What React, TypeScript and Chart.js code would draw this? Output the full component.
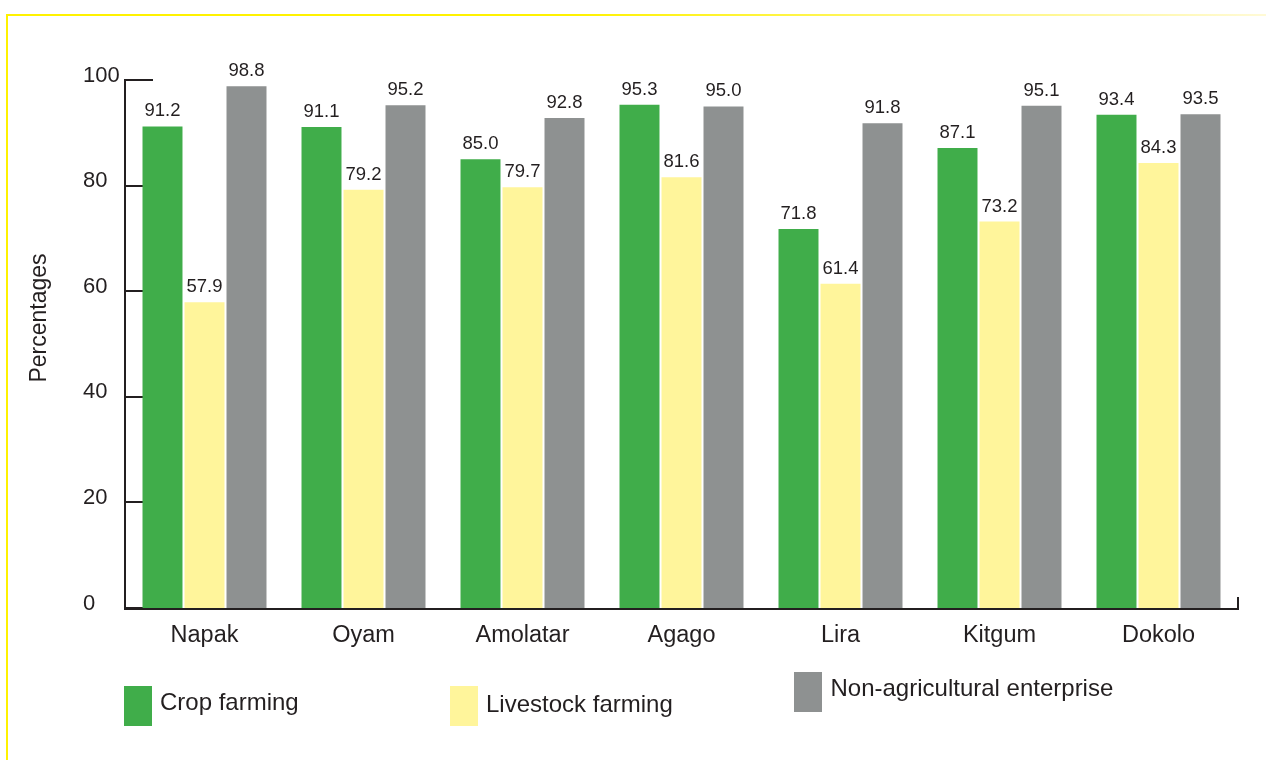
import { useEffect, useRef } from "react";
import { Chart, registerables } from "chart.js";

Chart.register(...registerables);

// District survey results (percent of households)
const districts = ["Napak", "Oyam", "Amolatar", "Agago", "Lira", "Kitgum", "Dokolo"];
const cropFarming = [91.2, 91.1, 85.0, 95.3, 71.8, 87.1, 93.4];
const livestockFarming = [57.9, 79.2, 79.7, 81.6, 61.4, 73.2, 84.3];
const nonAgricultural = [98.8, 95.2, 92.8, 95.0, 91.8, 95.1, 93.5];
const seriesNames = ["Crop farming", "Livestock farming", "Non-agricultural enterprise"];
const yTicks = [0, 20, 40, 60, 80, 100];
const yTitle = "Percentages";

const FONT = "'Liberation Sans', Arial, Helvetica, sans-serif";
const INK = "#231f20";
const COLORS = ["#40ad4a", "#fff59b", "#8e9191"];

// frame, axes, value labels, axis title and legend drawn around the bars
const decorPlugin = {
  id: "decor",
  beforeDraw(chart: any) {
    const { ctx, width, height } = chart;
    ctx.save();
    ctx.fillStyle = "#ffffff";
    ctx.fillRect(0, 0, width, height);
    // yellow frame: top edge fades out to the right
    const g = ctx.createLinearGradient(6, 0, width, 0);
    g.addColorStop(0, "#fff200");
    g.addColorStop(0.45, "#fff200");
    g.addColorStop(1, "#fffad6");
    ctx.fillStyle = g;
    ctx.fillRect(6, 14, width - 6, 2);
    ctx.fillStyle = "#fff200";
    ctx.fillRect(6, 14, 2, height - 14);
    ctx.restore();
  },
  beforeDatasetsDraw(chart: any) {
    const { ctx, chartArea, scales } = chart;
    const y = scales.y;
    ctx.save();
    ctx.strokeStyle = INK;
    ctx.lineWidth = 2;
    ctx.beginPath();
    yTicks.forEach((v) => {
      const py = Math.round(y.getPixelForValue(v));
      ctx.moveTo(chartArea.left, py);
      ctx.lineTo(chartArea.left + 28, py);
    });
    ctx.stroke();
    ctx.restore();
  },
  afterDatasetsDraw(chart: any) {
    const { ctx, chartArea } = chart;
    ctx.save();
    // axes
    ctx.strokeStyle = INK;
    ctx.lineWidth = 2;
    ctx.beginPath();
    ctx.moveTo(chartArea.left, chartArea.top - 1);
    ctx.lineTo(chartArea.left, chartArea.bottom + 1);
    ctx.lineTo(chartArea.right, chartArea.bottom + 1);
    ctx.lineTo(chartArea.right, chartArea.bottom - 11);
    ctx.stroke();

    // value labels
    ctx.fillStyle = INK;
    ctx.font = `18.5px ${FONT}`;
    ctx.textAlign = "center";
    ctx.textBaseline = "alphabetic";
    chart.data.datasets.forEach((ds: any, i: number) => {
      const meta = chart.getDatasetMeta(i);
      meta.data.forEach((el: any, j: number) => {
        ctx.fillText(Number(ds.data[j]).toFixed(1), el.x, el.y - 10);
      });
    });

    // y axis title
    ctx.font = `23px ${FONT}`;
    ctx.save();
    ctx.translate(45.5, 318);
    ctx.rotate(-Math.PI / 2);
    ctx.textAlign = "center";
    ctx.fillText(yTitle, 0, 0);
    ctx.restore();

    // legend
    const legend = [
      { box: [124, 686], text: [160, 710] },
      { box: [450, 686], text: [486, 711.5] },
      { box: [794, 672], text: [830.5, 695.5] },
    ];
    ctx.font = `24px ${FONT}`;
    ctx.textAlign = "left";
    legend.forEach((item, i) => {
      ctx.fillStyle = COLORS[i];
      ctx.fillRect(item.box[0], item.box[1], 28, 40);
      ctx.fillStyle = INK;
      ctx.fillText(seriesNames[i], item.text[0], item.text[1]);
    });
    ctx.restore();
  },
};

export default function App() {
  const canvasRef = useRef<HTMLCanvasElement | null>(null);

  useEffect(() => {
    const canvas = canvasRef.current;
    if (!canvas) return;
    const series = [cropFarming, livestockFarming, nonAgricultural];
    const chart = new Chart(canvas, {
      type: "bar",
      data: {
        labels: districts,
        datasets: series.map((values, i) => ({
          label: seriesNames[i],
          data: values,
          backgroundColor: COLORS[i],
          borderWidth: 0,
          barPercentage: 0.952,
          categoryPercentage: 0.7925,
        })),
      },
      options: {
        responsive: false,
        animation: false,
        devicePixelRatio: 1,
        layout: { padding: { left: 83, right: 28, top: 80, bottom: 0 } },
        plugins: {
          legend: { display: false },
          tooltip: { enabled: false },
        },
        scales: {
          x: {
            grid: { display: false, drawTicks: false },
            border: { display: false },
            ticks: {
              color: INK,
              font: { family: FONT, size: 23.5 },
              padding: 13,
              maxRotation: 0,
              autoSkip: false,
            },
            afterFit: (scale: any) => {
              scale.height = 152;
            },
          },
          y: {
            min: 0,
            max: 100,
            grid: { display: false, drawTicks: false },
            border: { display: false },
            ticks: {
              stepSize: 20,
              color: INK,
              font: { family: FONT, size: 22 },
              crossAlign: "far",
              labelOffset: -4.5,
              padding: 0,
            },
            afterFit: (scale: any) => {
              scale.width = 42;
            },
          },
        },
      },
      plugins: [decorPlugin],
    });
    return () => chart.destroy();
  }, []);

  return (
    <div style={{ position: "absolute", left: 0, top: 0, width: 1266, height: 760, background: "#fff" }}>
      <canvas ref={canvasRef} width={1266} height={760} style={{ display: "block" }} />
    </div>
  );
}
